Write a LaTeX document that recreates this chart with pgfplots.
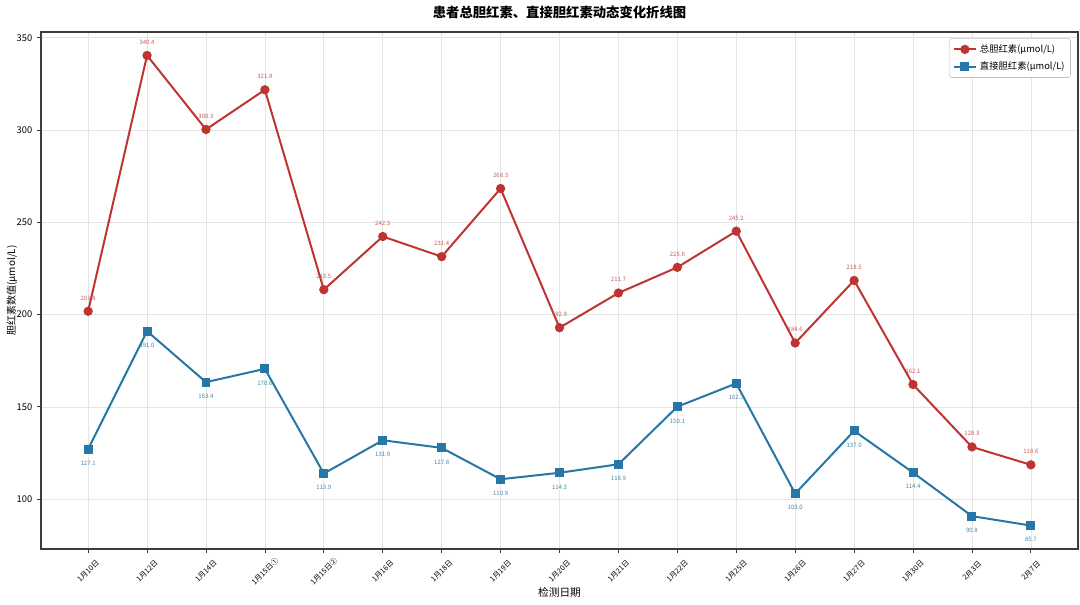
\documentclass[border=0pt]{standalone}
\usepackage{fontspec}
\setmainfont{Noto Sans CJK SC}
\usepackage{pgfplots}
\pgfplotsset{compat=1.18}
\definecolor{cred}{RGB}{190,52,50}
\definecolor{cblue}{RGB}{38,118,166}
\definecolor{lred}{RGB}{200,90,90}
\definecolor{lblue}{RGB}{70,135,165}
\definecolor{spine}{RGB}{60,60,60}
\begin{document}
\begin{tikzpicture}
\begin{axis}[
  scale only axis, width=777.75pt, height=387.75pt,
  xmin=-0.8, xmax=16.8, ymin=73, ymax=353.1,
  xtick={0,...,16},
  xticklabels={1月10日,1月12日,1月14日,1月15日①,1月15日②,1月16日,1月18日,1月19日,1月20日,1月21日,1月22日,1月25日,1月26日,1月27日,1月30日,2月3日,2月7日},
  ytick={100,150,200,250,300,350},
  tick pos=left,
  tick align=outside, major tick length=3pt,
  tick style={spine, line width=0.6pt},
  axis line style={spine, line width=0.9pt},
  grid=major, grid style={gray!20, line width=0.5pt},
  xticklabel shift=13.5pt,
  xticklabel style={font=\fontsize{5.5}{6}\selectfont, rotate=45, anchor=center, text=black},
  yticklabel style={font=\fontsize{7}{8}\selectfont, text=black},
  /pgf/number format/assume math mode=true,
  title={患者总胆红素、直接胆红素动态变化折线图},
  title style={at={(axis description cs:0.5,1.022)}, anchor=center, font=\fontsize{10}{12}\selectfont\bfseries},
  xlabel={检测日期},
  xlabel style={at={(axis description cs:0.5,-0.0832)}, anchor=center, font=\fontsize{8}{10}\selectfont},
  ylabel={胆红素数值(μmol/L)},
  ylabel style={at={(axis description cs:-0.028,0.5)}, anchor=center, font=\fontsize{7.5}{9}\selectfont},
  legend style={at={(axis description cs:0.993,0.988)}, anchor=north east, draw=gray!50, rounded corners=2pt, font=\fontsize{7}{8}\selectfont, inner sep=2.5pt, row sep=1.5pt},
  legend cell align=left,
  nodes near coords={\pgfmathprintnumber[fixed,fixed zerofill,precision=1,assume math mode=true]{\pgfplotspointmeta}},
]
\addplot[cred, line width=1.5pt, mark=*, mark size=2.7pt, mark options={solid, fill=cred},
  every node near coord/.append style={font=\fontsize{4.5}{5}\selectfont, text=lred, anchor=south, inner sep=0pt, yshift=7.5pt}]
  coordinates {(0,201.8) (1,340.4) (2,300.3) (3,321.8) (4,213.5) (5,242.3) (6,231.4) (7,268.3) (8,192.9) (9,211.7) (10,225.6) (11,245.2) (12,184.6) (13,218.5) (14,162.1) (15,128.3) (16,118.6)};
\addlegendentry{总胆红素(μmol/L)}
\addplot[cblue, line width=1.5pt, mark=square*, mark size=2.6pt, mark options={solid, fill=cblue},
  every node near coord/.append style={font=\fontsize{4.5}{5}\selectfont, text=lblue, anchor=north, inner sep=0pt, yshift=-8.25pt}]
  coordinates {(0,127.1) (1,191.0) (2,163.4) (3,170.6) (4,113.9) (5,131.9) (6,127.8) (7,110.8) (8,114.3) (9,118.9) (10,150.1) (11,162.7) (12,103.0) (13,137.0) (14,114.4) (15,90.8) (16,85.7)};
\addlegendentry{直接胆红素(μmol/L)}
\coordinate (bl) at (rel axis cs:0,0);
\coordinate (tr) at (rel axis cs:1,1);
\end{axis}
\pgfresetboundingbox
\path[use as bounding box] ([shift={(-30.75pt,-41.25pt)}]bl) rectangle ([shift={(1.5pt,24pt)}]tr);
\end{tikzpicture}
\end{document}
